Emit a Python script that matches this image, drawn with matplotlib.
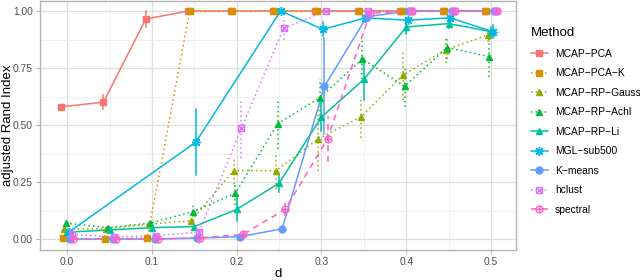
import matplotlib
matplotlib.use("Agg")
import matplotlib.pyplot as plt
from matplotlib.lines import Line2D
import numpy as np

plt.rcParams["font.family"] = ["Liberation Sans", "DejaVu Sans"]

d_all = [0.0, 0.05, 0.1, 0.15, 0.2, 0.25, 0.3, 0.35, 0.4, 0.45, 0.5]
d_mgl = [0.0, 0.15, 0.25, 0.3, 0.35, 0.4, 0.45, 0.5]

methods = ["MCAP−PCA", "MCAP−PCA−K", "MCAP−RP−Gauss", "MCAP−RP−Achl",
           "MCAP−RP−Li", "MGL−sub500", "K−means", "hclust", "spectral"]

ari_pca = [0.58, 0.60, 0.965, 1.0, 1.0, 1.0, 1.0, 1.0, 1.0, 1.0, 1.0]
sd_pca = [0, 0.03, 0.035, 0, 0, 0, 0, 0, 0, 0, 0]
ari_pcak = [0.005, 0.0, 0.005, 1.0, 1.0, 1.0, 1.0, 1.0, 1.0, 1.0, 1.0]
sd_pcak = [0] * 11
ari_gauss = [0.045, 0.045, 0.065, 0.08, 0.30, 0.30, 0.44, 0.535, 0.72, 0.83, 0.895]
sd_gauss = [0, 0, 0, 0, 0.06, 0.08, 0.14, 0.09, 0.11, 0.06, 0.03]
ari_achl = [0.07, 0.05, 0.07, 0.12, 0.20, 0.505, 0.62, 0.79, 0.67, 0.84, 0.80]
sd_achl = [0, 0.02, 0.02, 0.04, 0.05, 0.11, 0.08, 0.09, 0.09, 0.05, 0.09]
ari_li = [0.03, 0.04, 0.05, 0.055, 0.13, 0.245, 0.535, 0.70, 0.93, 0.945, 0.91]
sd_li = [0, 0, 0, 0, 0.05, 0.04, 0.06, 0.09, 0.03, 0.02, 0.02]
ari_mgl = [0.03, 0.425, 1.0, 0.92, 0.97, 0.96, 0.97, 0.91]
sd_mgl = [0, 0.145, 0, 0.03, 0.01, 0.01, 0.01, 0.03]
ari_km = [0.0, 0.0, 0.0, 0.005, 0.01, 0.045, 0.67, 0.975, 1.0, 1.0, 1.0]
sd_km = [0, 0, 0, 0, 0, 0, 0.21, 0.02, 0, 0, 0]
ari_hc = [0.02, 0.01, 0.015, 0.03, 0.485, 0.925, 1.0, 1.0, 1.0, 1.0, 1.0]
sd_hc = [0.01, 0.01, 0.02, 0.05, 0.13, 0.05, 0, 0, 0, 0, 0]
ari_sp = [0.0, 0.0, 0.0, 0.005, 0.02, 0.13, 0.44, 0.99, 1.0, 1.0, 1.0]
sd_sp = [0, 0, 0, 0, 0.01, 0.03, 0.1, 0.02, 0, 0, 0]

series = [
    (d_all, ari_pca, sd_pca), (d_all, ari_pcak, sd_pcak),
    (d_all, ari_gauss, sd_gauss), (d_all, ari_achl, sd_achl),
    (d_all, ari_li, sd_li), (d_mgl, ari_mgl, sd_mgl),
    (d_all, ari_km, sd_km), (d_all, ari_hc, sd_hc), (d_all, ari_sp, sd_sp),
]

colors = ["#F8766D", "#D39200", "#93AA00", "#00BA38", "#00C19F",
          "#00B9E3", "#619CFF", "#DB72FB", "#FF61C3"]
dotted = (0, (1, 2))
styles = ["-", dotted, dotted, dotted, "-", "-", "-", dotted, (0, (4, 3))]
# (marker, filled, overlay marker)
markers = [("s", True, None), ("s", True, None), ("^", True, None),
           ("^", True, None), ("^", True, None), ((8, 2, 0), True, None),
           ("o", True, None), ("s", False, "x"), ("o", False, "+")]

fig = plt.figure(figsize=(6.4, 2.8), dpi=100)
ax = fig.add_axes([40 / 640, 30 / 280, 476 / 640, 249 / 280])
ax.set_facecolor("white")

handles = []
n = len(methods)
for i, (name, (xs, ys, sd)) in enumerate(zip(methods, series)):
    off = (i - (n - 1) / 2) * 0.0018
    x = np.array(xs) + off
    y = np.array(ys)
    s = np.array(sd)
    c = colors[i]
    mk, filled, over = markers[i]
    for xi, yi, si in zip(x, y, s):
        if si > 0:
            ax.plot([xi, xi], [yi - si, yi + si], color=c, lw=1.1,
                    ls=styles[i], zorder=3)
    ax.plot(x, y, color=c, lw=1.1, ls=styles[i], zorder=3)
    mkw = dict(marker=mk, ms=5 if mk != (8, 2, 0) else 6.5,
               mec=c, mew=1.0, mfc=c if filled else "none")
    ax.plot(x, y, ls="none", color=c, zorder=4, **mkw)
    h = [Line2D([], [], color=c, lw=1.1, ls=styles[i], **mkw)]
    if over:
        ax.plot(x, y, marker=over, ms=4, ls="none", color=c, mew=1.0, zorder=5)
        h.append(Line2D([], [], marker=over, ms=4, ls="none", color=c, mew=1.0))
    handles.append(tuple(h))

ax.set_xlim(-0.032, 0.5295)
ax.set_ylim(-0.048, 1.044)
ax.set_xticks([0.0, 0.1, 0.2, 0.3, 0.4, 0.5])
ax.set_xticklabels(["0.0", "0.1", "0.2", "0.3", "0.4", "0.5"])
ax.set_xticks([0.05, 0.15, 0.25, 0.35, 0.45], minor=True)
ax.set_yticks([0.0, 0.25, 0.5, 0.75, 1.0])
ax.set_yticklabels(["0.00", "0.25", "0.50", "0.75", "1.00"])
ax.set_yticks([0.125, 0.375, 0.625, 0.875], minor=True)
ax.grid(which="major", color="#DEDEDE", lw=0.9)
ax.grid(which="minor", color="#EDEDED", lw=0.6)
ax.set_axisbelow(True)
for sp in ax.spines.values():
    sp.set_color("#B3B3B3")
    sp.set_linewidth(1.0)
ax.tick_params(which="major", length=3, color="#B3B3B3", labelsize=7.4,
               labelcolor="#4D4D4D", pad=2)
ax.tick_params(which="minor", length=0)
ax.set_xlabel("d", fontsize=9.5)
ax.set_ylabel("adjusted Rand Index", fontsize=9.5)
ax.xaxis.set_label_coords(0.5, (250 - 268) / 249)
ax.yaxis.set_label_coords((14 - 40) / 476, 0.5)

leg = fig.legend(handles, methods, loc="upper left",
                 bbox_to_anchor=(531 / 640, 1 - 27 / 280), frameon=False,
                 title="Method", title_fontsize=9.5, fontsize=7.4,
                 handlelength=1.65, handletextpad=0.7, labelspacing=0.93,
                 borderaxespad=0, borderpad=0)
leg._legend_box.align = "left"

fig.savefig("out.png", dpi=100)
